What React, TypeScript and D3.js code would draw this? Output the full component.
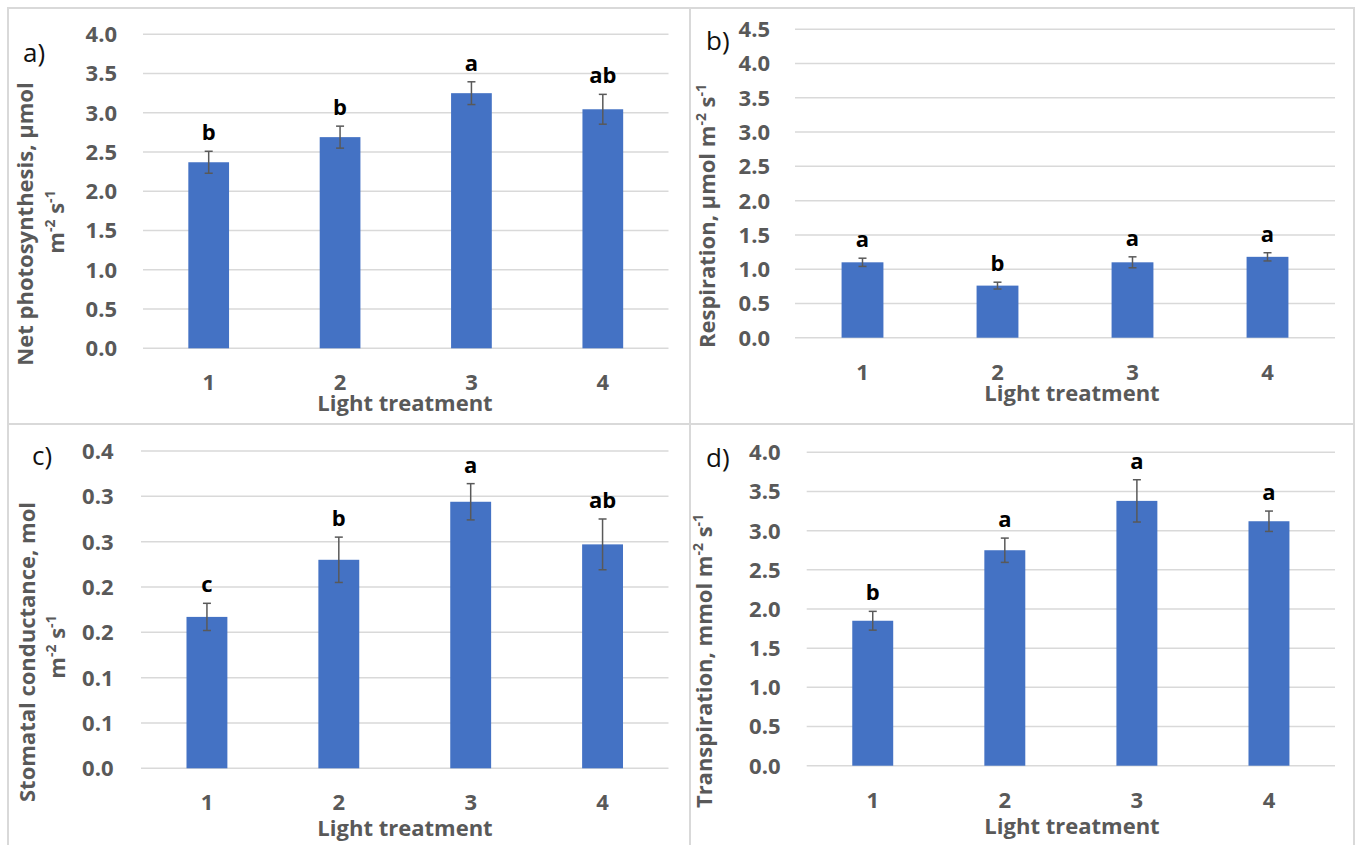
import React from "react";
import * as d3 from "d3";

// ---------- data ----------
const categories = ["1", "2", "3", "4"];

const photoMeans = [2.37, 2.69, 3.25, 3.045];
const photoErrs = [0.14, 0.14, 0.145, 0.19];
const photoLetters = ["b", "b", "a", "ab"];
const photoTicks = [0, 0.5, 1, 1.5, 2, 2.5, 3, 3.5, 4];

const respMeans = [1.1, 0.76, 1.1, 1.18];
const respErrs = [0.06, 0.05, 0.08, 0.06];
const respLetters = ["a", "b", "a", "a"];
const respTicks = [0, 0.5, 1, 1.5, 2, 2.5, 3, 3.5, 4, 4.5];

const condMeans = [0.167, 0.23, 0.294, 0.247];
const condErrs = [0.015, 0.025, 0.02, 0.028];
const condLetters = ["c", "b", "a", "ab"];
const condTicks = [0, 0.05, 0.1, 0.15, 0.2, 0.25, 0.3, 0.35];

const transMeans = [1.85, 2.75, 3.38, 3.12];
const transErrs = [0.12, 0.155, 0.27, 0.13];
const transLetters = ["b", "a", "a", "a"];
const transTicks = [0, 0.5, 1, 1.5, 2, 2.5, 3, 3.5, 4];

const xTitle = "Light treatment";

// ---------- style ----------
const BAR = "#4472C4";
const GRID = "#d9d9d9";
const TXT = "#595959";
const ERR = "#595959";
const FONT = "'Open Sans', 'Noto Sans', sans-serif";

const fmt1 = (v: number) => (Math.round(v * 10 + 1e-9) / 10).toFixed(1);

type Panel = {
  tag: string;
  means: number[];
  errs: number[];
  letters: string[];
  ticks: number[];
  yMax: number;
  left: number;
  right: number;
  top: number;
  bottom: number;
  tickX: number;
  tagX: number;
  tagY: number;
  xTitleX: number;
  xTitleY: number;
  yTitle: { x: number; y: number; parts: [string, boolean][] }[];
  border: [number, number, number, number];
};

const sup = (s: string): [string, boolean] => [s, true];
const txt = (s: string): [string, boolean] => [s, false];

const panels: Panel[] = [
  {
    tag: "a)",
    means: photoMeans,
    errs: photoErrs,
    letters: photoLetters,
    ticks: photoTicks,
    yMax: 4,
    left: 143,
    right: 668.5,
    top: 34.3,
    bottom: 348.3,
    tickX: 117,
    tagX: 23,
    tagY: 62,
    xTitleX: 405,
    xTitleY: 411,
    yTitle: [
      { x: 33, y: 224, parts: [txt("Net photosynthesis, µmol")] },
      { x: 64, y: 222, parts: [txt("m"), sup("-2"), txt(" s"), sup("-1")] },
    ],
    border: [8, 8, 690, 424],
  },
  {
    tag: "b)",
    means: respMeans,
    errs: respErrs,
    letters: respLetters,
    ticks: respTicks,
    yMax: 4.5,
    left: 795,
    right: 1335,
    top: 29.3,
    bottom: 337.7,
    tickX: 770,
    tagX: 706,
    tagY: 50,
    xTitleX: 1072,
    xTitleY: 401,
    yTitle: [
      {
        x: 715,
        y: 216,
        parts: [txt("Respiration, µmol m"), sup("-2"), txt(" s"), sup("-1")],
      },
    ],
    border: [690, 8, 1354, 424],
  },
  {
    tag: "c)",
    means: condMeans,
    errs: condErrs,
    letters: condLetters,
    ticks: condTicks,
    yMax: 0.35,
    left: 141,
    right: 668.5,
    top: 451,
    bottom: 768.3,
    tickX: 113.5,
    tagX: 32,
    tagY: 465,
    xTitleX: 405,
    xTitleY: 836,
    yTitle: [
      { x: 35, y: 652, parts: [txt("Stomatal conductance, mol")] },
      { x: 65, y: 647, parts: [txt("m"), sup("-2"), txt(" s"), sup("-1")] },
    ],
    border: [8, 424, 690, 860],
  },
  {
    tag: "d)",
    means: transMeans,
    errs: transErrs,
    letters: transLetters,
    ticks: transTicks,
    yMax: 4,
    left: 806.7,
    right: 1335,
    top: 452.3,
    bottom: 765.7,
    tickX: 780.5,
    tagX: 706,
    tagY: 467,
    xTitleX: 1072,
    xTitleY: 834,
    yTitle: [
      {
        x: 712,
        y: 661,
        parts: [txt("Transpiration, mmol m"), sup("-2"), txt(" s"), sup("-1")],
      },
    ],
    border: [690, 424, 1354, 860],
  },
];

function TitleParts({ parts }: { parts: [string, boolean][] }) {
  const out: React.ReactNode[] = [];
  parts.forEach(([s, isSup], i) => {
    const prevSup = i > 0 && parts[i - 1][1];
    let dy = 0;
    if (isSup && !prevSup) dy = -9;
    if (!isSup && prevSup) dy = 9;
    out.push(
      <tspan key={i} dy={dy} fontSize={isSup ? 14 : undefined}>
        {s}
      </tspan>
    );
  });
  return <>{out}</>;
}

function PanelChart({ p }: { p: Panel }) {
  const x = d3
    .scaleBand<string>()
    .domain(categories)
    .range([p.left, p.right])
    .paddingInner(0.69)
    .paddingOuter(0.345);
  const y = d3.scaleLinear().domain([0, p.yMax]).range([p.bottom, p.top]);
  const [bx0, by0, bx1, by1] = p.border;
  return (
    <g>
      <rect
        x={bx0}
        y={by0}
        width={bx1 - bx0}
        height={by1 - by0}
        fill="none"
        stroke={GRID}
        strokeWidth={2}
      />
      {p.ticks.map((t, i) => (
        <g key={i}>
          <line
            x1={p.left}
            x2={p.right}
            y1={y(t)}
            y2={y(t)}
            stroke={GRID}
            strokeWidth={1.5}
          />
          <text
            x={p.tickX}
            y={y(t)}
            dy="0.36em"
            textAnchor="end"
            fontSize={22}
            fontWeight={700}
            fill={TXT}
          >
            {fmt1(t)}
          </text>
        </g>
      ))}
      {categories.map((c, i) => {
        const cx = (x(c) as number) + x.bandwidth() / 2;
        const hi = p.means[i] + p.errs[i];
        const lo = p.means[i] - p.errs[i];
        return (
          <g key={c}>
            <rect
              x={x(c)}
              y={y(p.means[i])}
              width={x.bandwidth()}
              height={y(0) - y(p.means[i])}
              fill={BAR}
            />
            <line x1={cx} x2={cx} y1={y(hi)} y2={y(lo)} stroke={ERR} strokeWidth={1.5} />
            <line x1={cx - 4} x2={cx + 4} y1={y(hi)} y2={y(hi)} stroke={ERR} strokeWidth={1.5} />
            <line x1={cx - 4} x2={cx + 4} y1={y(lo)} y2={y(lo)} stroke={ERR} strokeWidth={1.5} />
            <text
              x={cx}
              y={y(hi) - 11}
              textAnchor="middle"
              fontSize={22}
              fontWeight={700}
              fill="#000"
            >
              {p.letters[i]}
            </text>
            <text
              x={cx}
              y={p.bottom + 42}
              textAnchor="middle"
              fontSize={22}
              fontWeight={700}
              fill={TXT}
            >
              {c}
            </text>
          </g>
        );
      })}
      <text
        x={p.xTitleX}
        y={p.xTitleY}
        textAnchor="middle"
        fontSize={22}
        fontWeight={700}
        fill={TXT}
      >
        {xTitle}
      </text>
      {p.yTitle.map((l, i) => (
        <text
          key={i}
          transform={`translate(${l.x},${l.y}) rotate(-90)`}
          textAnchor="middle"
          dy="0.36em"
          fontSize={22}
          fontWeight={700}
          fill={TXT}
        >
          <TitleParts parts={l.parts} />
        </text>
      ))}
      <text x={p.tagX} y={p.tagY} fontSize={26} fill="#111">
        {p.tag}
      </text>
    </g>
  );
}

export default function App() {
  return (
    <svg
      width={1357}
      height={845}
      style={{ position: "absolute", left: 0, top: 0, background: "#fff" }}
      fontFamily={FONT}
    >
      <rect x={0} y={0} width={1357} height={845} fill="#fff" />
      {panels.map((p) => (
        <PanelChart key={p.tag} p={p} />
      ))}
    </svg>
  );
}
